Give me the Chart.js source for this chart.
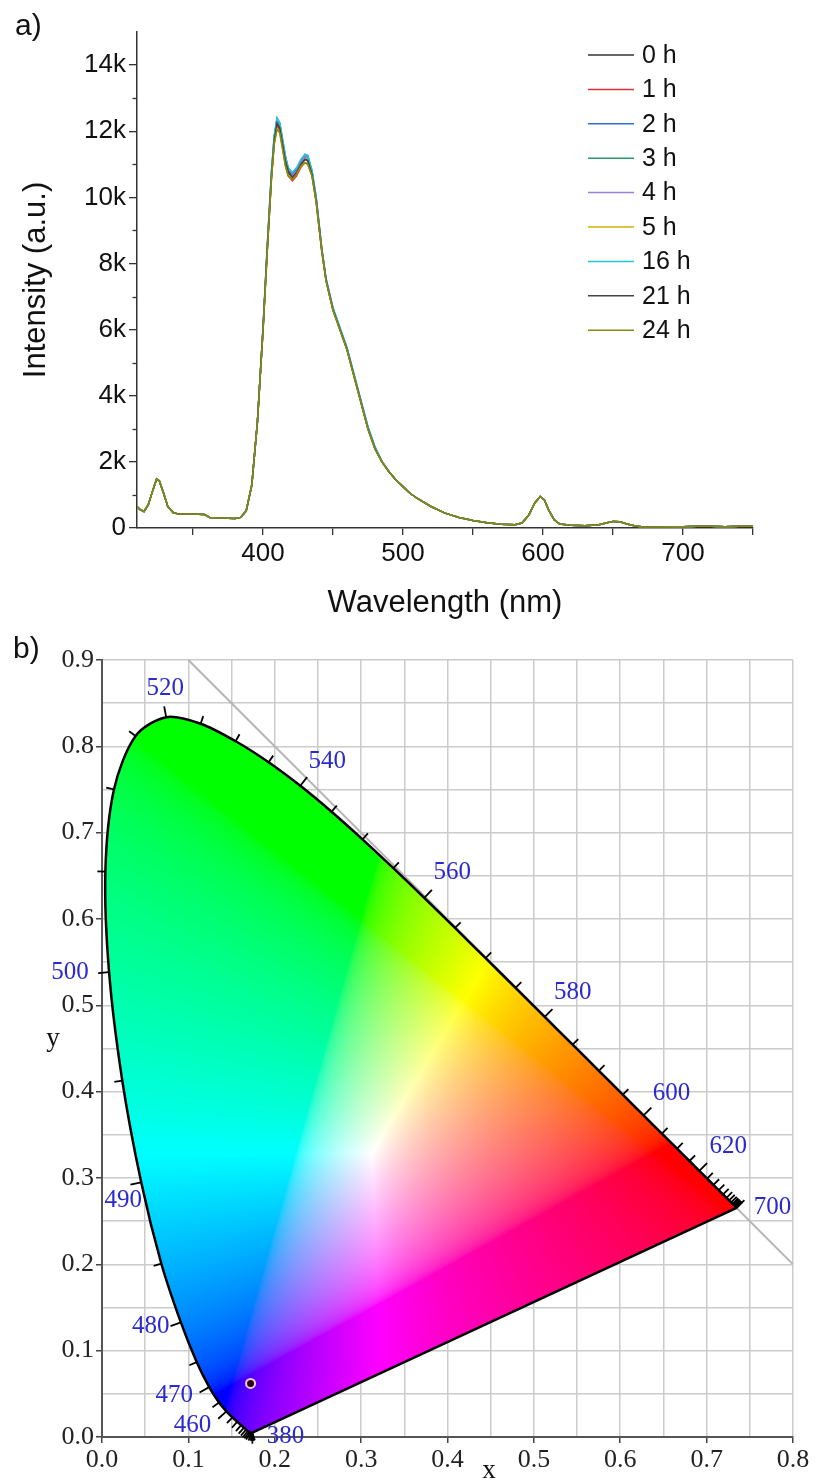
<!DOCTYPE html>
<html>
<head>
<meta charset="utf-8">
<title>Emission spectra and CIE chromaticity</title>
<script src="https://cdn.jsdelivr.net/npm/chart.js@4.4.1/dist/chart.umd.min.js"></script>
<style>
  body { margin: 0; background: #fff; }
  canvas { display: block; }
</style>
</head>
<body>
<canvas id="spectrumChart" width="815" height="625"></canvas>
<canvas id="cieChart" width="815" height="857"></canvas>
<script>
// ---- panel a: emission spectra over time ----
const wavelengths = [
  310, 312, 315, 318, 321, 324, 326, 329, 332, 336, 340, 350, 358, 362, 370, 380, 384, 388, 392, 396,
  400, 403, 406, 408, 410, 412, 414, 416, 418, 421, 424, 427, 430, 432, 435, 438, 442,
  445, 450, 455, 460, 465, 470, 475, 480, 485, 490, 495, 500, 505, 510, 520, 530, 540, 550, 560, 570,
  580, 585, 590, 594, 598, 601, 604, 608, 612, 620, 630, 640, 645, 650, 655, 660, 666, 672, 680, 690,
  700, 710, 720, 730, 740, 750
];

const intensity0h = [
  650, 560, 500, 700, 1100, 1480, 1420, 1050, 650, 460, 420, 420, 410, 320, 300, 290, 320, 520, 1300, 3200,
  6000, 8400, 10600, 11700, 12200, 12050, 11550, 11050, 10750, 10600, 10750, 10980, 11150, 11100, 10700, 9900, 8400,
  7500, 6600, 6000, 5400, 4600, 3800, 3000, 2400, 2000, 1700, 1450, 1250, 1050, 900, 650, 450, 320, 230, 160, 110,
  100, 150, 400, 750, 950, 850, 550, 250, 120, 80, 70, 100, 150, 200, 190, 120, 60, 30, 30, 40,
  40, 50, 50, 40, 50, 50
];
const intensity1h = [
  650, 560, 500, 700, 1100, 1480, 1420, 1050, 650, 460, 420, 420, 410, 320, 300, 290, 320, 520, 1300, 3200,
  5950, 8350, 10550, 11650, 12150, 12000, 11500, 11000, 10650, 10500, 10650, 10900, 11050, 11000, 10650, 9850, 8350,
  7500, 6600, 6000, 5400, 4600, 3800, 3000, 2400, 2000, 1700, 1450, 1250, 1050, 900, 650, 450, 320, 230, 160, 110,
  100, 150, 400, 750, 950, 850, 550, 250, 120, 80, 70, 100, 150, 200, 190, 120, 60, 30, 30, 40,
  40, 50, 50, 40, 50, 50
];
const intensity2h = [
  650, 560, 500, 700, 1100, 1480, 1420, 1050, 650, 460, 420, 420, 410, 320, 300, 290, 320, 520, 1300, 3200,
  6050, 8500, 10750, 11850, 12400, 12250, 11750, 11250, 10900, 10700, 10850, 11100, 11300, 11250, 10800, 10000, 8450,
  7550, 6650, 6050, 5450, 4650, 3850, 3050, 2450, 2000, 1700, 1450, 1250, 1050, 900, 650, 450, 320, 230, 160, 110,
  100, 150, 400, 750, 950, 850, 550, 250, 120, 80, 70, 100, 150, 200, 190, 120, 60, 30, 30, 40,
  40, 50, 50, 40, 50, 50
];
const intensity3h = [
  650, 560, 500, 700, 1100, 1480, 1420, 1050, 650, 460, 420, 420, 410, 320, 300, 290, 320, 520, 1300, 3200,
  6000, 8450, 10700, 11800, 12300, 12150, 11650, 11150, 10800, 10650, 10800, 11050, 11220, 11180, 10750, 9950, 8420,
  7520, 6620, 6020, 5420, 4620, 3820, 3020, 2420, 2000, 1700, 1450, 1250, 1050, 900, 650, 450, 320, 230, 160, 110,
  100, 150, 400, 750, 950, 850, 550, 250, 120, 80, 70, 100, 150, 200, 190, 120, 60, 30, 30, 40,
  40, 50, 50, 40, 50, 50
];
const intensity4h = [
  650, 560, 500, 700, 1100, 1480, 1420, 1050, 650, 460, 420, 420, 410, 320, 300, 290, 320, 520, 1300, 3200,
  6050, 8450, 10700, 11800, 12350, 12200, 11700, 11200, 10850, 10650, 10800, 11050, 11250, 11200, 10780, 9950, 8430,
  7520, 6620, 6020, 5420, 4620, 3820, 3020, 2420, 2000, 1700, 1450, 1250, 1050, 900, 650, 450, 320, 230, 160, 110,
  100, 150, 400, 750, 950, 850, 550, 250, 120, 80, 70, 100, 150, 200, 190, 120, 60, 30, 30, 40,
  40, 50, 50, 40, 50, 50
];
const intensity5h = [
  650, 560, 500, 700, 1100, 1480, 1420, 1050, 650, 460, 420, 420, 410, 320, 300, 290, 320, 520, 1300, 3200,
  5950, 8350, 10500, 11600, 12100, 11950, 11450, 10950, 10650, 10550, 10700, 10950, 11050, 11000, 10650, 9850, 8350,
  7480, 6580, 5980, 5380, 4580, 3780, 2980, 2380, 2000, 1700, 1450, 1250, 1050, 900, 650, 450, 320, 230, 160, 110,
  100, 150, 400, 750, 950, 850, 550, 250, 120, 80, 70, 100, 150, 200, 190, 120, 60, 30, 30, 40,
  40, 50, 50, 40, 50, 50
];
const intensity16h = [
  650, 560, 500, 700, 1100, 1480, 1420, 1050, 650, 460, 420, 420, 410, 320, 300, 290, 320, 520, 1300, 3200,
  6050, 8500, 10750, 11850, 12400, 12250, 11750, 11250, 10900, 10750, 10900, 11150, 11300, 11280, 10820, 10000, 8450,
  7560, 6660, 6060, 5460, 4660, 3860, 3060, 2460, 2020, 1710, 1450, 1250, 1050, 900, 650, 450, 320, 230, 160, 110,
  100, 150, 400, 750, 950, 850, 550, 250, 120, 80, 70, 100, 150, 200, 190, 120, 60, 30, 30, 40,
  40, 50, 50, 40, 50, 50
];
const intensity21h = [
  650, 560, 500, 700, 1100, 1480, 1420, 1050, 650, 460, 420, 420, 410, 320, 300, 290, 320, 520, 1300, 3200,
  6000, 8400, 10600, 11700, 12250, 12100, 11600, 11100, 10800, 10600, 10750, 11000, 11150, 11120, 10700, 9900, 8400,
  7500, 6600, 6000, 5400, 4600, 3800, 3000, 2400, 2000, 1700, 1450, 1250, 1050, 900, 650, 450, 320, 230, 160, 110,
  100, 150, 400, 750, 950, 850, 550, 250, 120, 80, 70, 100, 150, 200, 190, 120, 60, 30, 30, 40,
  40, 50, 50, 40, 50, 50
];
const intensity24h = [
  650, 560, 500, 700, 1100, 1480, 1420, 1050, 650, 460, 420, 420, 410, 320, 300, 290, 320, 520, 1300, 3200,
  5950, 8350, 10550, 11600, 12050, 11950, 11450, 10950, 10650, 10550, 10700, 10950, 11050, 11000, 10650, 9850, 8380,
  7480, 6580, 5980, 5380, 4580, 3780, 2980, 2380, 2000, 1700, 1450, 1250, 1050, 900, 650, 450, 320, 230, 160, 110,
  100, 150, 400, 750, 950, 850, 550, 250, 120, 80, 70, 100, 150, 200, 190, 120, 60, 30, 30, 40,
  40, 50, 50, 40, 50, 50
];

const seriesLabels = ["0 h", "1 h", "2 h", "3 h", "4 h", "5 h", "16 h", "21 h", "24 h"];
const seriesData = [intensity0h, intensity1h, intensity2h, intensity3h, intensity4h,
  intensity5h, intensity16h, intensity21h, intensity24h];
const seriesColors = ["#333333", "#e0303a", "#2f6fd0", "#2a9a6a", "#9a7fd8",
  "#d4b000", "#22c8d8", "#444444", "#8a8a10"];

const spectrumXTicks = [350, 400, 450, 500, 550, 600, 650, 700, 750];
const spectrumYTicks = [0, 1000, 2000, 3000, 4000, 5000, 6000, 7000, 8000, 9000, 10000, 11000, 12000, 13000, 14000];

// ---- panel b: CIE 1931 spectral locus (5 nm steps) ----
const locusNm = [
  380, 385, 390, 395, 400, 405, 410, 415, 420, 425, 430, 435, 440, 445, 450, 455, 460, 465, 470, 475,
  480, 485, 490, 495, 500, 505, 510, 515, 520, 525, 530, 535, 540, 545, 550, 555, 560, 565, 570, 575,
  580, 585, 590, 595, 600, 605, 610, 615, 620, 625, 630, 635, 640, 645, 650, 655, 660, 665, 670, 675,
  680, 685, 690, 695, 700
];
const locusX = [
  0.1741, 0.1740, 0.1738, 0.1736, 0.1733, 0.1730, 0.1726, 0.1721, 0.1714, 0.1703, 0.1689, 0.1669, 0.1644, 0.1611, 0.1566, 0.1510, 0.1440, 0.1355, 0.1241, 0.1096,
  0.0913, 0.0687, 0.0454, 0.0235, 0.0082, 0.0039, 0.0139, 0.0389, 0.0743, 0.1142, 0.1547, 0.1929, 0.2296, 0.2658, 0.3016, 0.3373, 0.3731, 0.4087, 0.4441, 0.4788,
  0.5125, 0.5448, 0.5752, 0.6029, 0.6270, 0.6482, 0.6658, 0.6801, 0.6915, 0.7006, 0.7079, 0.7140, 0.7190, 0.7230, 0.7260, 0.7283, 0.7300, 0.7311, 0.7320, 0.7327,
  0.7334, 0.7340, 0.7344, 0.7346, 0.7347
];
const locusY = [
  0.0050, 0.0050, 0.0049, 0.0049, 0.0048, 0.0048, 0.0048, 0.0048, 0.0051, 0.0058, 0.0069, 0.0086, 0.0109, 0.0138, 0.0177, 0.0227, 0.0297, 0.0399, 0.0578, 0.0868,
  0.1327, 0.2007, 0.2950, 0.4127, 0.5384, 0.6548, 0.7502, 0.8120, 0.8338, 0.8262, 0.8059, 0.7816, 0.7543, 0.7243, 0.6923, 0.6589, 0.6245, 0.5896, 0.5547, 0.5202,
  0.4866, 0.4544, 0.4242, 0.3965, 0.3725, 0.3514, 0.3340, 0.3197, 0.3083, 0.2993, 0.2920, 0.2859, 0.2809, 0.2770, 0.2740, 0.2717, 0.2700, 0.2689, 0.2680, 0.2673,
  0.2666, 0.2660, 0.2656, 0.2654, 0.2653
];
const locusLabelNm = [380, 460, 470, 480, 490, 500, 520, 540, 560, 580, 600, 620, 700];

const sampleX = [0.172];
const sampleY = [0.062];

const diagonalX = [0.1, 0.8];
const diagonalY = [0.9, 0.2];

const cieXTicks = [0, 0.05, 0.1, 0.15, 0.2, 0.25, 0.3, 0.35, 0.4, 0.45, 0.5, 0.55, 0.6, 0.65, 0.7, 0.75, 0.8];
const cieYTicks = [0, 0.05, 0.1, 0.15, 0.2, 0.25, 0.3, 0.35, 0.4, 0.45, 0.5, 0.55, 0.6, 0.65, 0.7, 0.75, 0.8, 0.85, 0.9];

// where each wavelength label sits relative to its locus point (px)
const labelOffsets = {
  380: [33, 4], 460: [-34, 14], 470: [-35, 8], 480: [-30, 4], 490: [-18, 18],
  500: [-39, 0], 520: [-1, -29], 540: [27, -24], 560: [28, -25], 580: [28, -24],
  600: [28, -22], 620: [29, -24], 700: [36, -1]
};

const SANS = '"Liberation Sans", Arial, sans-serif';
const SERIF = '"Liberation Serif", "Times New Roman", serif';

Chart.defaults.font.family = SANS;
Chart.defaults.color = "#111";

// ---------- panel a ----------
const isMajorCount = v => v % 2000 === 0;

const spectrumLegend = {
  id: "spectrumLegend",
  afterDraw(chart) {
    const { ctx, chartArea, scales: { y } } = chart;
    ctx.save();

    // short minor ticks on the intensity axis
    ctx.strokeStyle = "#333";
    ctx.lineWidth = 1.3;
    spectrumYTicks.filter(v => !isMajorCount(v)).forEach(v => {
      const py = Math.round(y.getPixelForValue(v)) + 0.5;
      ctx.beginPath();
      ctx.moveTo(chartArea.left - 4.5, py);
      ctx.lineTo(chartArea.left, py);
      ctx.stroke();
    });

    ctx.font = "25px " + SANS;
    ctx.textBaseline = "middle";
    ctx.fillStyle = "#111";
    seriesLabels.forEach((label, i) => {
      const ly = 55 + i * 34.4;
      ctx.strokeStyle = seriesColors[i];
      ctx.lineWidth = 1.5;
      ctx.beginPath();
      ctx.moveTo(588, ly);
      ctx.lineTo(634, ly);
      ctx.stroke();
      ctx.fillText(label, 642, ly + 1);
    });
    ctx.font = "30px " + SANS;
    ctx.textBaseline = "top";
    ctx.fillText("a)", 15, 12);
    ctx.restore();
  }
};

new Chart(document.getElementById("spectrumChart"), {
  type: "line",
  data: {
    datasets: seriesData.map((vals, i) => ({
      label: seriesLabels[i],
      data: wavelengths.map((w, k) => ({ x: w, y: vals[k] })),
      borderColor: seriesColors[i],
      borderWidth: 1.5,
      pointRadius: 0,
      tension: 0,
      fill: false,
      order: seriesData.length - 1 - i
    }))
  },
  options: {
    responsive: false,
    animation: false,
    events: [],
    layout: { padding: { top: 32, right: 62, left: 0, bottom: 0 } },
    plugins: { legend: { display: false }, tooltip: { enabled: false } },
    scales: {
      x: {
        type: "linear",
        min: 310,
        max: 750,
        afterBuildTicks: s => { s.ticks = spectrumXTicks.map(v => ({ value: v })); },
        afterFit: s => { s.height = 625 - 528; },
        grid: { drawOnChartArea: false, color: "#333", tickLength: 7, lineWidth: 1.3 },
        border: { color: "#333", width: 1.5 },
        ticks: {
          autoSkip: false,
          maxRotation: 0,
          padding: 3,
          color: "#111",
          font: { size: 26 },
          callback: v => (v % 100 === 0 ? String(v) : "")
        },
        title: {
          display: true,
          text: "Wavelength (nm)",
          color: "#111",
          font: { size: 31 },
          padding: { top: 0, bottom: 3 }
        }
      },
      y: {
        min: 0,
        max: 15000,
        afterBuildTicks: s => { s.ticks = spectrumYTicks.map(v => ({ value: v })); },
        afterFit: s => { s.width = 137; },
        grid: {
          drawOnChartArea: false,
          tickLength: 8,
          lineWidth: 1.3,
          tickColor: c => (c.tick && isMajorCount(c.tick.value) ? "#333" : "rgba(0,0,0,0)")
        },
        border: { color: "#333", width: 1.5 },
        ticks: {
          autoSkip: false,
          padding: 3,
          color: "#111",
          font: { size: 26 },
          callback: v => (isMajorCount(v) ? (v === 0 ? "0" : v / 1000 + "k") : "")
        },
        title: {
          display: true,
          text: "Intensity (a.u.)",
          color: "#111",
          font: { size: 31 },
          padding: { top: 18, bottom: 0 }
        }
      }
    }
  },
  plugins: [spectrumLegend]
});

// ---------- panel b ----------
function gammaEncode(c) {
  return c <= 0.0031308 ? 12.92 * c : 1.055 * Math.pow(c, 1 / 2.4) - 0.055;
}

// chromaticity (x, y) -> brightest displayable sRGB colour of that hue
function chromaToRgb(cx, cy) {
  if (cy < 0.0005) return [0, 0, 0];
  const X = cx / cy, Y = 1, Z = (1 - cx - cy) / cy;
  let r = 3.2406 * X - 1.5372 * Y - 0.4986 * Z;
  let g = -0.9689 * X + 1.8758 * Y + 0.0415 * Z;
  let b = 0.0557 * X - 0.2040 * Y + 1.0570 * Z;
  r = Math.max(r, 0); g = Math.max(g, 0); b = Math.max(b, 0);
  const m = Math.max(r, g, b) || 1;
  return [r / m, g / m, b / m].map(c => Math.round(255 * gammaEncode(c)));
}

const LOCUS_INDEX = 1;

function traceLocus(ctx, chart) {
  const meta = chart.getDatasetMeta(LOCUS_INDEX);
  meta.dataset.updateControlPoints(chart.chartArea, "x");
  const pts = meta.data;
  ctx.beginPath();
  ctx.moveTo(pts[0].x, pts[0].y);
  for (let i = 1; i < pts.length; i++) {
    const p = pts[i - 1], c = pts[i];
    if (p.cp2x !== undefined && c.cp1x !== undefined) {
      ctx.bezierCurveTo(p.cp2x, p.cp2y, c.cp1x, c.cp1y, c.x, c.y);
    } else {
      ctx.lineTo(c.x, c.y);
    }
  }
  ctx.closePath();
}

const cieFill = {
  id: "cieFill",
  beforeDatasetsDraw(chart) {
    const { ctx, chartArea: a, scales: { x, y } } = chart;
    const w = Math.ceil(a.right - a.left), h = Math.ceil(a.bottom - a.top);
    const off = document.createElement("canvas");
    off.width = w;
    off.height = h;
    const octx = off.getContext("2d");
    const img = octx.createImageData(w, h);
    for (let j = 0; j < h; j++) {
      const cy = y.getValueForPixel(a.top + j + 0.5);
      for (let i = 0; i < w; i++) {
        const cx = x.getValueForPixel(a.left + i + 0.5);
        const rgb = chromaToRgb(cx, cy);
        const k = (j * w + i) * 4;
        img.data[k] = rgb[0];
        img.data[k + 1] = rgb[1];
        img.data[k + 2] = rgb[2];
        img.data[k + 3] = 255;
      }
    }
    octx.putImageData(img, 0, 0);
    ctx.save();
    traceLocus(ctx, chart);
    ctx.clip();
    ctx.drawImage(off, a.left, a.top);
    ctx.restore();
  }
};

const locusTicks = {
  id: "locusTicks",
  afterDatasetsDraw(chart) {
    const { ctx, scales: { x, y } } = chart;
    const n = locusNm.length;
    const px = locusX.map(v => x.getPixelForValue(v));
    const py = locusY.map(v => y.getPixelForValue(v));
    ctx.save();
    ctx.strokeStyle = "#000";
    ctx.lineWidth = 1.8;
    ctx.font = "25px " + SERIF;
    ctx.fillStyle = "#2a2ad0";
    ctx.textAlign = "center";
    ctx.textBaseline = "middle";
    for (let i = 0; i < n; i++) {
      const a = Math.max(i - 1, 0), b = Math.min(i + 1, n - 1);
      const dx = px[b] - px[a], dy = py[b] - py[a];
      const len = Math.hypot(dx, dy) || 1;
      const nx = dy / len, ny = -dx / len;
      const nm = locusNm[i];
      const labelled = locusLabelNm.includes(nm);
      const t = labelled ? 11 : 8;
      ctx.beginPath();
      ctx.moveTo(px[i], py[i]);
      ctx.lineTo(px[i] + nx * t, py[i] + ny * t);
      ctx.stroke();
      if (labelled) {
        const o = labelOffsets[nm];
        ctx.fillText(String(nm), px[i] + o[0], py[i] + o[1]);
      }
    }
    // axis letters and panel tag
    ctx.fillStyle = "#111";
    ctx.font = "27px " + SERIF;
    ctx.fillText("x", 489, 846);
    ctx.fillText("y", 53, 414);
    ctx.font = "30px " + SANS;
    ctx.textAlign = "left";
    ctx.textBaseline = "top";
    ctx.fillText("b)", 13, 10);
    ctx.restore();
  }
};

const isTenth = v => Math.abs(v * 10 - Math.round(v * 10)) < 1e-6;

function cieAxis(min, max, tickList, fit) {
  return {
    type: "linear",
    min: min,
    max: max,
    afterBuildTicks: s => { s.ticks = tickList.map(v => ({ value: v })); },
    afterFit: fit,
    grid: {
      color: "#cbcbcb",
      lineWidth: 1.5,
      tickLength: 6,
      tickColor: c => (c.tick && isTenth(c.tick.value) ? "#444" : "rgba(0,0,0,0)")
    },
    border: { color: "#555", width: 2 },
    ticks: {
      autoSkip: false,
      maxRotation: 0,
      padding: 2,
      color: "#222",
      font: { family: SERIF, size: 26 },
      callback: v => (isTenth(v) ? v.toFixed(1) : "")
    }
  };
}

new Chart(document.getElementById("cieChart"), {
  type: "scatter",
  data: {
    datasets: [
      {
        label: "sample",
        data: sampleX.map((v, i) => ({ x: v, y: sampleY[i] })),
        pointRadius: 4.5,
        pointBackgroundColor: "#2b0a18",
        pointBorderColor: "#f3c8d6",
        pointBorderWidth: 2,
        order: 0
      },
      {
        label: "spectral locus",
        data: locusX.map((v, i) => ({ x: v, y: locusY[i] })),
        showLine: true,
        borderColor: "#000",
        borderWidth: 2.5,
        pointRadius: 0,
        tension: 0.3,
        order: 1
      },
      {
        label: "line of purples",
        data: [
          { x: locusX[0], y: locusY[0] },
          { x: locusX[locusX.length - 1], y: locusY[locusY.length - 1] }
        ],
        showLine: true,
        borderColor: "#000",
        borderWidth: 2.5,
        pointRadius: 0,
        order: 1
      },
      {
        label: "x + y = 1",
        data: diagonalX.map((v, i) => ({ x: v, y: diagonalY[i] })),
        showLine: true,
        borderColor: "#b5b5b5",
        borderWidth: 2,
        pointRadius: 0,
        order: 3
      }
    ]
  },
  options: {
    responsive: false,
    animation: false,
    events: [],
    layout: { padding: { top: 35, right: 22, left: 0, bottom: 0 } },
    plugins: { legend: { display: false }, tooltip: { enabled: false } },
    scales: {
      x: cieAxis(0, 0.8, cieXTicks, s => { s.height = 857 - 812; }),
      y: cieAxis(0, 0.9, cieYTicks, s => { s.width = 102; })
    }
  },
  plugins: [cieFill, locusTicks]
});
</script>
</body>
</html>
